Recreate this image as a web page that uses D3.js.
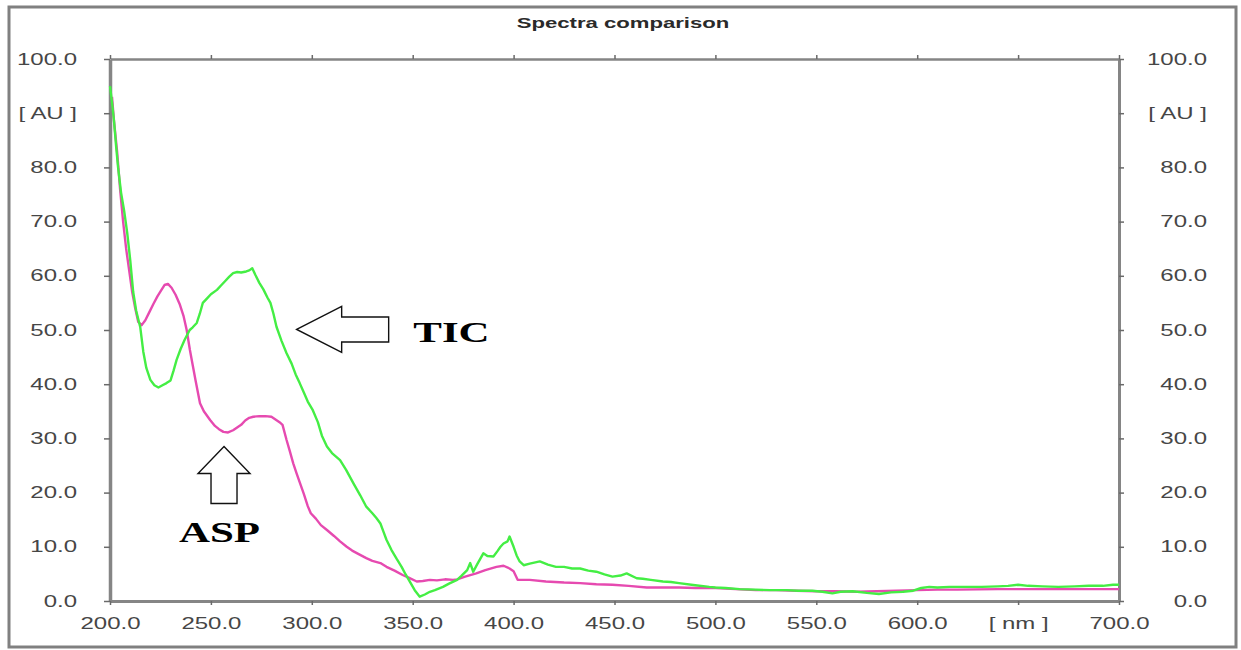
<!DOCTYPE html>
<html>
<head>
<meta charset="utf-8">
<script src="https://cdn.jsdelivr.net/npm/d3@7"></script>
<style>
  html, body { margin: 0; padding: 0; background: #fff; }
  svg { display: block; }
</style>
</head>
<body>
<svg id="chart" width="1241" height="650"></svg>
<script>
// ---------------- DATA ----------------
const title = "Spectra comparison";
const xTicks = [200, 250, 300, 350, 400, 450, 500, 550, 600, 650, 700];
const xTickLabels = ["200.0", "250.0", "300.0", "350.0", "400.0", "450.0", "500.0", "550.0", "600.0", "[ nm ]", "700.0"];
const yTicks = [0, 10, 20, 30, 40, 50, 60, 70, 80, 90, 100];
const yTickLabels = ["0.0", "10.0", "20.0", "30.0", "40.0", "50.0", "60.0", "70.0", "80.0", "[ AU ]", "100.0"];

// TIC spectrum (green): wavelength nm, absorbance AU
const ticNm = [200, 201, 202, 203, 204, 205.5, 207, 208.5, 210, 211.5, 213, 215, 216.5, 218, 220, 222, 224, 226, 228, 230,
  231.5, 233, 235, 237, 239.5, 241, 243, 244.5, 246, 248, 250, 253, 255, 257, 259, 261, 263, 265, 267.5, 269,
  270.5, 272, 274, 276, 278, 279.5, 281, 282.5, 285, 287.5, 290, 292, 294, 296, 298, 300.5, 303, 305, 307.5, 310,
  314, 317, 320.5, 324, 327, 330, 332, 334, 335.5, 337, 339.5, 342, 344.5, 346.5, 349, 351, 353.5, 356, 358.5, 361,
  365, 368, 372, 374, 377, 378.5, 380, 382, 385, 387, 390, 392, 393.5, 395, 397, 398, 400, 401.5, 403, 405,
  408, 413, 417, 421, 425, 429, 433, 437, 441, 445, 449, 453, 456, 461, 464, 468, 474, 478, 482, 490,
  497, 500, 505, 512, 520, 527, 535, 541, 548, 553, 558, 562, 568, 575, 581, 587, 593, 598, 602, 606,
  610, 616, 624, 632, 640, 645, 650, 655, 662, 670, 678, 685, 692, 697, 700];
const ticAU = [95, 92, 88.5, 84, 80, 75.3, 72, 68, 63, 57, 53.5, 50.5, 46, 43, 40.8, 39.8, 39.4, 39.8, 40.2, 40.7,
  42.5, 44.5, 46.5, 48.2, 50, 50.5, 51.3, 53, 55, 55.8, 56.6, 57.4, 58.2, 59, 59.8, 60.5, 60.7, 60.6, 60.8, 61.0,
  61.4, 60.2, 58.7, 57.5, 56, 55, 53, 50.6, 48, 45.7, 43.8, 41.8, 40.2, 38.5, 36.8, 35.2, 33, 30.5, 28.5, 27.3,
  26, 24.2, 21.8, 19.5, 17.4, 16.2, 15.3, 14.3, 12.8, 11.3, 9.4, 7.8, 6.3, 4.9, 3.3, 2.0, 0.8, 1.2, 1.7, 2.0,
  2.6, 3.2, 3.9, 4.6, 5.7, 7.0, 5.4, 6.8, 8.8, 8.3, 8.2, 9.2, 10, 10.6, 11.0, 11.9, 10.0, 8.4, 7.3, 6.6,
  6.9, 7.3, 6.7, 6.3, 6.3, 6.0, 6.0, 5.6, 5.4, 4.9, 4.5, 4.7, 5.1, 4.2, 4.1, 3.9, 3.6, 3.5, 3.3, 2.9,
  2.6, 2.5, 2.4, 2.2, 2.1, 2.0, 2.0, 1.9, 1.9, 1.7, 1.4, 1.7, 1.8, 1.5, 1.3, 1.6, 1.7, 1.9, 2.4, 2.6,
  2.5, 2.6, 2.6, 2.6, 2.7, 2.8, 3.0, 2.8, 2.7, 2.6, 2.7, 2.8, 2.8, 3.0, 3.0];

// ASP spectrum (magenta)
const aspNm = [201, 202, 203.5, 205, 206.5, 208, 209.5, 211, 212.5, 214, 215.7, 217.5, 219.5, 221.5, 223.5, 225.5, 227, 228.7, 230.5, 232.5,
  234.5, 236.5, 238, 239.6, 241, 242.5, 244.6, 246.5, 249.6, 252, 254, 256.2, 258.5, 261, 263, 265, 267, 269, 271, 274,
  277, 280, 282, 284, 285.5, 287.5, 289, 290.8, 292.5, 294.2, 296, 298, 299.5, 302, 304.5, 307.5, 311, 314, 317.3, 320,
  323, 327, 330, 334, 337, 341, 345, 348, 352, 355, 358.5, 362, 366, 370, 372, 376, 381.5, 386, 391.5, 395,
  398, 400, 402, 408, 416, 425, 433, 441, 449, 457, 466, 474, 482, 490, 500, 510, 520, 530, 540, 550,
  560, 570, 580, 590, 600, 610, 620, 640, 660, 680, 700];
const aspAU = [93, 88.5, 83, 76, 70, 65, 61, 57, 54, 51.5, 50.9, 51.8, 53.3, 54.8, 56.2, 57.4, 58.3, 58.5, 57.8, 56.5,
  54.8, 52.5, 50, 46.3, 43.5, 40.5, 36.5, 35, 33.4, 32.3, 31.7, 31.2, 31.1, 31.5, 32, 32.5, 33.3, 33.8, 34, 34.1,
  34.1, 34.0, 33.5, 33, 32.5, 29.7, 27.8, 25.4, 23.5, 21.7, 19.8, 17.5, 16.2, 15.2, 14, 13.1, 12, 11, 10, 9.3,
  8.7, 7.9, 7.4, 7.0, 6.3, 5.6, 4.8, 4.3, 3.6, 3.7, 3.9, 3.8, 4.0, 3.9, 4.0, 4.5, 5.1, 5.7, 6.3, 6.5,
  6.0, 5.5, 3.9, 3.9, 3.6, 3.4, 3.3, 3.1, 3.0, 2.8, 2.5, 2.5, 2.5, 2.4, 2.4, 2.2, 2.0, 2.0, 1.9, 1.8,
  1.8, 1.7, 1.8, 1.9, 2.0, 2.1, 2.1, 2.2, 2.2, 2.2, 2.2];

// Annotations (arrow tips and label anchors in data coordinates)
const annotLabels = ["TIC", "ASP"];
const annotTipNm = [292.5, 256.5];
const annotTipAU = [50.1, 28.5];
const annotDir = ["left", "up"];
const annotTextNm = [350.3, 234.2];
const annotTextAU = [47.8, 10.9];

// ---------------- LAYOUT ----------------
const svg = d3.select("#chart");
const L = 110, R = 1119, T = 59, B = 601;
const x = d3.scaleLinear().domain([200, 700]).range([L, R]);
const y = d3.scaleLinear().domain([0, 100]).range([B, T]);
const SX = 1.5; // horizontal stretch of text in reference
const axisColor = "#858585";
const labelColor = "#464646";
const fontSans = "'Liberation Sans', Arial, sans-serif";

// outer frame
svg.append("rect").attr("x", 9).attr("y", 7).attr("width", 1227).attr("height", 640)
  .attr("fill", "none").attr("stroke", "#808080").attr("stroke-width", 3);

// title
svg.append("text").text(title)
  .attr("transform", `translate(623,28) scale(1.58,1)`)
  .attr("text-anchor", "middle")
  .attr("font-family", fontSans).attr("font-weight", "bold").attr("font-size", 14)
  .attr("fill", "#2a2a2a");

function styleAxis(g, width) {
  g.select(".domain").attr("stroke", axisColor).attr("stroke-width", width);
  g.selectAll(".tick line").attr("stroke", "#6a6a6a").attr("stroke-width", 1.5);
  g.selectAll(".tick text")
    .attr("font-family", fontSans).attr("font-size", 16).attr("fill", labelColor)
    .each(function () {
      const t = d3.select(this);
      const tx = +t.attr("x") || 0;
      t.attr("x", tx / SX).attr("transform", `scale(${SX},1)`);
    });
}

// left axis
const gL = svg.append("g").attr("transform", `translate(${L},0)`)
  .call(d3.axisLeft(y).tickValues(yTicks).tickSize(6).tickSizeOuter(0).tickPadding(27)
    .tickFormat((d, i) => yTickLabels[i]));
styleAxis(gL, 3.5);

// right axis
const gR = svg.append("g").attr("transform", `translate(${R},0)`)
  .call(d3.axisRight(y).tickValues(yTicks).tickSize(5).tickSizeOuter(0)
    .tickFormat((d, i) => yTickLabels[i]));
gR.selectAll(".tick text").attr("text-anchor", "end").attr("x", 88);
styleAxis(gR, 3);

// bottom axis
const gB = svg.append("g").attr("transform", `translate(0,${B})`)
  .call(d3.axisBottom(x).tickValues(xTicks).tickSize(4).tickSizeOuter(0)
    .tickFormat((d, i) => xTickLabels[i]));
gB.selectAll(".tick text").attr("y", 28).attr("dy", "0");
styleAxis(gB, 3);

// top axis (no labels)
const gT = svg.append("g").attr("transform", `translate(0,${T})`)
  .call(d3.axisTop(x).tickValues(xTicks).tickSize(4).tickSizeOuter(0).tickFormat(""));
styleAxis(gT, 2.5);

// lines
const line = d3.line().x(d => x(d[0])).y(d => y(d[1]));
const aspData = aspNm.map((v, i) => [v, aspAU[i]]);
const ticData = ticNm.map((v, i) => [v, ticAU[i]]);

svg.append("path").datum(aspData).attr("d", line)
  .attr("fill", "none").attr("stroke", "#e64ab0").attr("stroke-width", 2.4)
  .attr("stroke-linejoin", "round");
svg.append("path").datum(ticData).attr("d", line)
  .attr("fill", "none").attr("stroke", "#44ee44").attr("stroke-width", 2.4)
  .attr("stroke-linejoin", "round");

// block arrows
function arrowPath(tx, ty, dir) {
  if (dir === "left") {
    const hl = 45, hh = 23, sh = 12.5, len = 92;
    return [[tx, ty], [tx + hl, ty - hh], [tx + hl, ty - sh], [tx + len, ty - sh],
      [tx + len, ty + sh], [tx + hl, ty + sh], [tx + hl, ty + hh]];
  } else {
    const hl = 27, hw = 26, sw = 13, len = 57;
    return [[tx, ty], [tx + hw, ty + hl], [tx + sw, ty + hl], [tx + sw, ty + len],
      [tx - sw, ty + len], [tx - sw, ty + hl], [tx - hw, ty + hl]];
  }
}
annotLabels.forEach((lab, i) => {
  const pts = arrowPath(x(annotTipNm[i]), y(annotTipAU[i]), annotDir[i]);
  svg.append("path").attr("d", d3.line()(pts) + "Z")
    .attr("fill", "#fff").attr("stroke", "#111").attr("stroke-width", 1.4)
    .attr("stroke-linejoin", "miter");
  svg.append("text").text(lab)
    .attr("transform", `translate(${x(annotTextNm[i])},${y(annotTextAU[i])}) scale(1.48,1)`)
    .attr("font-family", "'Liberation Serif', 'Times New Roman', serif")
    .attr("font-weight", "bold").attr("font-size", 29).attr("fill", "#000");
});
</script>
</body>
</html>
